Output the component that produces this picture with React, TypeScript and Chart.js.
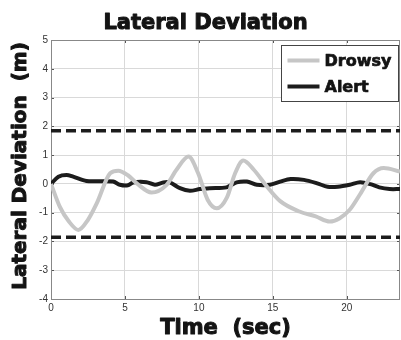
import React, { useEffect, useRef } from "react";
import { Chart, registerables } from "chart.js";

Chart.register(...registerables);

const drowsyTime = [0, 0.6, 1.2, 1.85, 2.5, 3.1, 4.0, 4.55, 5.2, 5.8, 6.8, 7.8, 8.5, 9.3, 9.95, 10.6, 11.2, 11.9, 12.45, 13.0, 13.7, 14.6, 15.5, 16.8, 17.9, 18.85, 19.5, 20.2, 20.9, 21.8, 22.5, 23.6];
const drowsyVals = [0, -0.8, -1.3, -1.6, -1.25, -0.67, 0.37, 0.46, 0.3, 0.02, -0.3, -0.04, 0.5, 0.95, 0.37, -0.56, -0.85, -0.47, 0.37, 0.81, 0.5, -0.09, -0.6, -0.96, -1.13, -1.31, -1.2, -0.9, -0.36, 0.37, 0.55, 0.43];

const alertTime = [0, 0.5, 1.05, 1.5, 2.4, 3.2, 4.2, 4.66, 5.2, 5.56, 6.46, 7.03, 7.59, 8.04, 8.72, 9.39, 10.07, 10.74, 11.87, 12.55, 13.24, 13.92, 14.8, 15.5, 16.2, 17.1, 18.0, 18.7, 19.4, 20.2, 20.9, 21.6, 22.2, 22.9, 23.6];
const alertVals = [0, 0.25, 0.31, 0.25, 0.1, 0.09, 0.08, -0.03, -0.05, 0.05, 0.06, -0.03, 0.05, 0.05, -0.15, -0.24, -0.18, -0.15, -0.12, 0.05, 0.08, -0.03, -0.03, 0.08, 0.17, 0.14, 0.02, -0.1, -0.1, -0.03, 0.06, -0.01, -0.12, -0.18, -0.18];

const laneLimits = [1.85, -1.85];
const xRange = [0, 23.6];
const yRange = [-4, 5];
const seriesNames = ["Drowsy", "Alert"];
const titleText = "Lateral Deviation";
const xTitle = "Time  (sec)";
const yTitle = "Lateral Deviation  (m)";

const HEAVY = "'DejaVu Sans', sans-serif";
const INK = "#141414";

function heavyText(ctx: any, text: string, x: number, y: number, size: number, stroke: number) {
  ctx.font = `bold ${size}px ${HEAVY}`;
  ctx.fillStyle = INK;
  ctx.strokeStyle = INK;
  ctx.lineWidth = stroke;
  ctx.lineJoin = "round";
  ctx.fillText(text, x, y);
  if (stroke > 0) ctx.strokeText(text, x, y);
}

const framePlugin = {
  id: "frame",
  beforeDatasetsDraw(chart: any) {
    const { ctx, chartArea: a, scales } = chart;
    ctx.save();
    ctx.strokeStyle = "#555";
    ctx.lineWidth = 1;
    scales.x.ticks.forEach((t: any) => {
      const px = Math.round(scales.x.getPixelForValue(t.value)) + 0.5;
      ctx.beginPath();
      ctx.moveTo(px, a.top);
      ctx.lineTo(px, a.top + 3);
      ctx.moveTo(px, a.bottom);
      ctx.lineTo(px, a.bottom - 3);
      ctx.stroke();
    });
    scales.y.ticks.forEach((t: any) => {
      const py = Math.round(scales.y.getPixelForValue(t.value)) + 0.5;
      ctx.beginPath();
      ctx.moveTo(a.right, py);
      ctx.lineTo(a.right - 3, py);
      ctx.moveTo(a.left, py);
      ctx.lineTo(a.left + 3, py);
      ctx.stroke();
    });
    ctx.strokeStyle = "#888";
    ctx.strokeRect(Math.round(a.left) + 0.5, Math.round(a.top) + 0.5, Math.round(a.right - a.left) - 1, Math.round(a.bottom - a.top));
    ctx.restore();
  },
};

const labelsPlugin = {
  id: "heavyLabels",
  afterDraw(chart: any) {
    const { ctx, chartArea: a } = chart;
    ctx.save();
    ctx.textAlign = "center";
    ctx.textBaseline = "alphabetic";
    heavyText(ctx, titleText, 205.5, 28.5, 21, 1);
    heavyText(ctx, xTitle, (a.left + a.right) / 2, 334, 21, 1);
    ctx.translate(25.5, 166);
    ctx.rotate(-Math.PI / 2);
    heavyText(ctx, yTitle, 0, 0, 20, 1);
    ctx.restore();
  },
};

const boxLegendPlugin = {
  id: "boxLegend",
  afterDatasetsDraw(chart: any) {
    const { ctx, chartArea: a } = chart;
    const ds = chart.data.datasets.filter((d: any) => seriesNames.includes(d.label));
    const w = 117, h = 56;
    const x0 = a.right - w - 1.5;
    const y0 = a.top + 5.5;
    ctx.save();
    ctx.fillStyle = "#fff";
    ctx.fillRect(x0, y0, w, h);
    ctx.strokeStyle = "#444";
    ctx.lineWidth = 1;
    ctx.strokeRect(x0, y0, w, h);
    ds.forEach((d: any, i: number) => {
      const cy = y0 + 15 + i * 26;
      ctx.strokeStyle = d.borderColor;
      ctx.lineWidth = 4;
      ctx.beginPath();
      ctx.moveTo(x0 + 6, cy);
      ctx.lineTo(x0 + 38, cy);
      ctx.stroke();
      ctx.textBaseline = "middle";
      ctx.textAlign = "left";
      heavyText(ctx, d.label, x0 + 43, cy + 1, 16, 0.7);
    });
    ctx.restore();
  },
};

export default function App() {
  const ref = useRef<HTMLCanvasElement>(null);
  useEffect(() => {
    document.body.style.margin = "0";
    const toPts = (xs: number[], ys: number[]) => xs.map((x, i) => ({ x, y: ys[i] }));
    const chart = new Chart(ref.current!, {
      type: "line",
      data: {
        datasets: [
          {
            label: seriesNames[0],
            data: toPts(drowsyTime, drowsyVals),
            borderColor: "#c6c6c6",
            borderWidth: 4,
            pointRadius: 0,
            cubicInterpolationMode: "monotone",
            fill: false,
          },
          {
            label: seriesNames[1],
            data: toPts(alertTime, alertVals),
            borderColor: "#1c1c1c",
            borderWidth: 4,
            pointRadius: 0,
            tension: 0.3,
            fill: false,
          },
          ...laneLimits.map((v, i) => ({
            label: "limit" + i,
            data: [{ x: xRange[0], y: v }, { x: xRange[1], y: v }],
            borderColor: "#1c1c1c",
            borderWidth: 3.5,
            borderDash: [10, 5],
            pointRadius: 0,
            fill: false,
          })),
        ],
      },
      options: {
        responsive: false,
        animation: false,
        layout: { padding: { top: 40, right: 1 } },
        plugins: {
          legend: { display: false },
          tooltip: { enabled: false },
          title: { display: false },
        },
        scales: {
          x: {
            type: "linear",
            min: xRange[0],
            max: xRange[1],
            ticks: {
              stepSize: 5,
              includeBounds: false,
              color: "#333",
              font: { family: "'Liberation Sans', Arial", size: 10 },
              padding: 3,
            },
            grid: { color: "#d9d9d9", drawTicks: false },
            border: { display: false },
            afterFit: (s: any) => {
              s.height = 41;
            },
          },
          y: {
            type: "linear",
            min: yRange[0],
            max: yRange[1],
            ticks: {
              stepSize: 1,
              color: "#333",
              font: { family: "'Liberation Sans', Arial", size: 10 },
              padding: 3,
            },
            grid: { color: "#d9d9d9", drawTicks: false },
            border: { display: false },
            afterFit: (s: any) => {
              s.width = 51;
            },
          },
        },
      },
      plugins: [framePlugin, boxLegendPlugin, labelsPlugin],
    } as any);
    return () => chart.destroy();
  }, []);
  return (
    <div style={{ width: 401, height: 340 }}>
      <canvas ref={ref} width={401} height={340} />
    </div>
  );
}
